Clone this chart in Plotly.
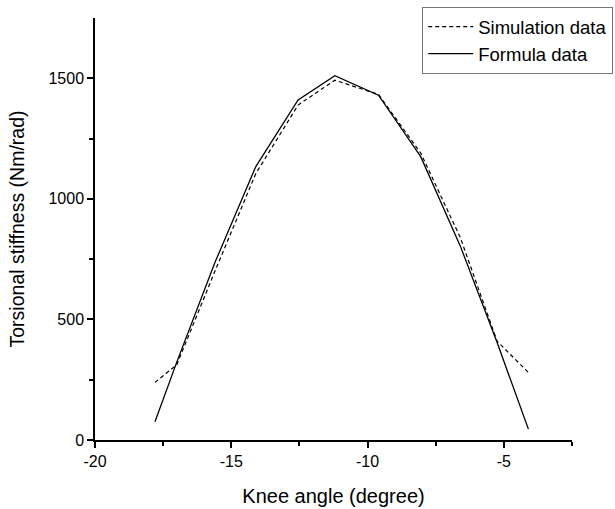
import plotly.graph_objects as go

knee_angle = [-17.8, -17.0, -15.6, -14.1, -12.55, -11.2, -9.6, -8.05, -6.6, -5.25, -4.1]
simulation = [239, 312, 700, 1105, 1389, 1492, 1433, 1190, 840, 410, 280]
formula = [76, 323, 736, 1134, 1410, 1511, 1430, 1175, 805, 405, 45]

x_tick_vals = [-20, -15, -10, -5]
x_tick_text = ["-20", "-15", "-10", "-5"]
y_tick_vals = [0, 500, 1000, 1500]

fig = go.Figure()
fig.add_trace(go.Scatter(x=knee_angle, y=simulation, mode="lines", name="Simulation data",
                         line=dict(color="black", width=1.2, dash="4px,3px")))
fig.add_trace(go.Scatter(x=knee_angle, y=formula, mode="lines", name="Formula data",
                         line=dict(color="black", width=1.3)))

font = "Liberation Sans, Arial, sans-serif"
fig.update_layout(
    width=615, height=509,
    margin=dict(l=95, r=43, t=18, b=69, autoexpand=False),
    plot_bgcolor="white", paper_bgcolor="white",
    font=dict(family=font, color="black", size=16),
    showlegend=True,
    legend=dict(x=0.686, y=1.026, xanchor="left", yanchor="top",
                bordercolor="#777", borderwidth=1, bgcolor="white",
                font=dict(size=18.5), tracegroupgap=0, itemwidth=45),
    xaxis=dict(range=[-20, -2.5], tickvals=x_tick_vals, ticktext=x_tick_text,
               showline=True, linecolor="black", linewidth=1.5,
               ticks="outside", ticklen=6, tickwidth=1.5, tickcolor="black",
               minor=dict(tickvals=[-17.5, -12.5, -7.5, -2.5], ticks="outside", ticklen=4,
                          tickwidth=1.5, tickcolor="black"),
               showgrid=False, zeroline=False,
               title=dict(text="Knee angle (degree)", font=dict(size=20), standoff=20),
               tickfont=dict(size=16)),
    yaxis=dict(range=[0, 1750], tickvals=y_tick_vals,
               showline=True, linecolor="black", linewidth=1.5,
               ticks="outside", ticklen=6, tickwidth=1.5, tickcolor="black",
               minor=dict(tickvals=[250, 750, 1250], ticks="outside", ticklen=4,
                          tickwidth=1.5, tickcolor="black"),
               showgrid=False, zeroline=False,
               title=dict(text="Torsional stiffness (Nm/rad)", font=dict(size=19.5), standoff=19),
               tickfont=dict(size=16)),
)
fig.write_html("out.html")
